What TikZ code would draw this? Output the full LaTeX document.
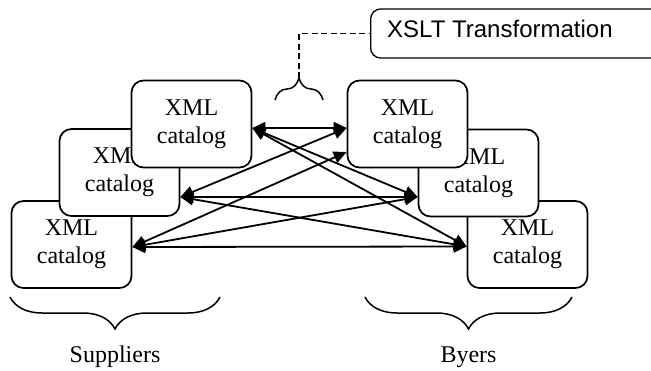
\documentclass[tikz,border=0pt]{standalone}
\usepackage{fontspec}
\setmainfont{Liberation Serif}
\newfontfamily\xsltfont{Liberation Sans}
\usetikzlibrary{arrows.meta,calc,decorations.pathreplacing}

\begin{document}
\begin{tikzpicture}[x=1pt,y=-1pt]
        \useasboundingbox (0,0) rectangle (651,370);
        \begin{scope}[every node/.style={draw,rounded corners=12pt,line width=1.7pt,fill=white,
                minimum width=120pt,minimum height=87pt,inner sep=0pt,align=center,
                font=\fontsize{24}{28}\selectfont}]
            \node (s3) at (71.5,244.5) {XML\\catalog};
            \node (s2) at (119.5,172.5) {XML\\catalog};
            \node (s1) at (191.5,124.0) {XML\\catalog};

            \node (b3) at (527.5,244.5) {XML\\catalog};
            \node (b2) at (478.5,173.0) {XML\\catalog};
            \node (b1) at (407.5,124.0) {XML\\catalog};
        \end{scope}

        \coordinate (s1p) at ($(s1.east)+(0,4)$);
        \coordinate (s2p) at ($(s2.east)+(0,24.5)$);
        \coordinate (s3p) at ($(s3.east)+(0,2.5)$);
        \coordinate (b1p) at ($(b1.west)+(0,4)$);
        \coordinate (b1q) at ($(b1.west)+(0,28)$);
        \coordinate (b2p) at ($(b2.west)+(0,24)$);
        \coordinate (b3p) at ($(b3.west)+(0,2)$);

        \begin{scope}[line width=1.8pt,arrows={Triangle[length=13pt,width=12pt]-Triangle[length=13pt,width=12pt]}]
            \foreach \a/\b in {s1p/b1p,s2p/b1p,s3p/b1q,s1p/b2p,s2p/b2p,s3p/b2p,s1p/b3p,s2p/b3p,s3p/b3p}
                {\draw (\a)--(\b);}
        \end{scope}

        \begin{scope}[line width=1.5pt,decoration={brace}]
            \draw[decorate,decoration={amplitude=22pt}] (275,100) -- (323,100);
            \draw[decorate,decoration={amplitude=32pt}] (220,297) -- (10,297);
            \draw[decorate,decoration={amplitude=32pt}] (572,297) -- (365,297);
        \end{scope}
        \coordinate (tip) at (299,78);

        \node[draw,rounded corners=10pt,line width=1.3pt,anchor=west,minimum height=49pt,
              minimum width=400pt,inner xsep=17pt,text height=17.5pt,text depth=9pt,
              font=\xsltfont\fontsize{24}{28}\selectfont] (xslt) at (370,33.5) {};
        \node[anchor=base west,inner sep=0pt,font=\xsltfont\fontsize{24}{28}\selectfont]
              (xsltlabel) at (387,37.5) {XSLT Transformation};
        \draw[line width=1.3pt,dash pattern=on 6pt off 3.5pt] (tip) |- (xslt.west);

        \node[anchor=base,font=\fontsize{24}{28}\selectfont] (sup) at (115,362) {Suppliers};
        \node[anchor=base,font=\fontsize{24}{28}\selectfont] (byr) at (468.5,362) {Byers};
\end{tikzpicture}
\end{document}
